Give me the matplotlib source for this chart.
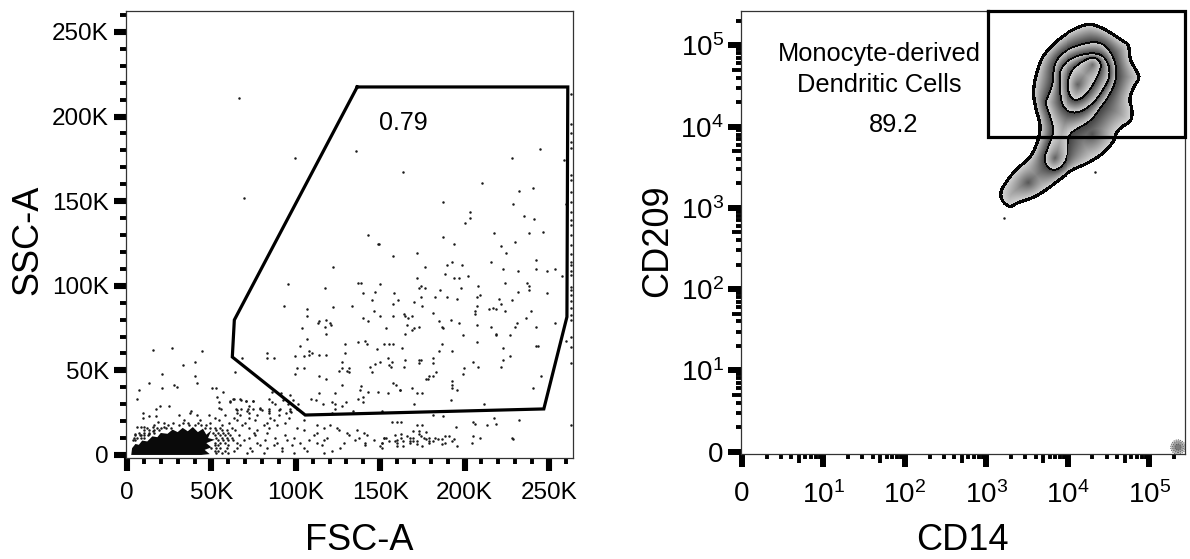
import numpy as np
import matplotlib
matplotlib.use("Agg")
import matplotlib.pyplot as plt
from matplotlib.path import Path

plt.rcParams['font.family'] = ['Liberation Sans', 'DejaVu Sans']
plt.rcParams['mathtext.default'] = 'regular'

# ---- left plot: FSC-A / SSC-A, values in thousands ----
gate_fsc = [136.4, 261.2, 260.7, 247.0, 105.6, 62.4, 63.6, 136.4]
gate_ssc = [217.5, 217.5, 81.6, 27.2, 23.6, 57.9, 79.8, 217.5]

# outline of the part of the population where the dots merge
core_fsc = [2.5, 3, 5, 7, 9, 12, 15, 18, 20, 24, 27, 30, 33, 36, 39, 42, 45, 47, 50, 48, 52, 47, 50, 46, 49, 44]
core_ssc = [0, 4, 6.5, 6, 8.5, 8, 11, 10.5, 13, 12.5, 15, 13.5, 16, 14, 16.5, 13.5, 15.5, 12, 14.5, 10, 9, 7, 4.5, 3, 0.5, 0]

# single events inside the gate and around it
events = [
    (66.2,210.8),(99.3,175.5),(69.1,151.7),(135.6,179.6),(163.7,167.2),(244.6,180.6),(228,175.5),(259.2,174.5),
    (210.4,160.9),(240.4,157.8),(232.1,155.8),(187.5,149.5),(229,148.5),(260.2,148.5),(203.1,143.4),(203.1,140.2),
    (200,137.1),(235.3,141.2),(241.4,139.3),(143,129.8),(149,124.7),(187.5,128.8),(217.7,131),(238.4,131),(246.7,132),
    (193.8,124.5),(172.1,119.2),(221.8,123.6),(230,125.7),(224.7,119.2),(242.5,115.3),(215.5,114.1),(192.8,114.1),
    (189.7,112.1),(198.7,112.1),(176.3,111.1),(222.8,110),(231.8,109),(242.5,110),(248.6,109),(253.7,110),(258,105.8),
    (188.7,107),(202.1,105.8),(172.1,104.8),(193.8,104.8),(197,104.8),(223.8,101.9),(237.2,101.9),(238.3,99.7),
    (238.3,97.5),(208.2,99.7),(174.1,99.7),(173.1,98.5),(176.3,98.5),(198,98.5),(185.5,97.5),(231.8,96.6),(248.6,95.6),
    (209.4,94.6),(207.2,93.4),(174.1,93.4),(182.4,93.4),(189.7,93.4),(195.8,92.4),(220.6,92.4),(227.9,91.4),(170,90.3),
    (221.8,89.3),(207.2,88.3),(175.1,88.3),(214.5,86.1),(216.7,87.1),(218.6,86.1),(223.8,85.1),(239.3,85.1),(206.2,85.1),
    (206.2,83.2),(181.4,84.1),(163.9,83.2),(164.9,82),(166.8,81),(169,82),(236.2,81),(191.8,80),(184.6,79),(197,77.9),
    (231,77.9),(253.7,77.9),(165.8,76.9),(207.2,76.9),(230,75.9),(242.5,75.9),(215.5,75.9),(186.5,75.9),(187.5,74.9),
    (173.1,75.9),(170,74.9),(169,73.9),(164.9,71.7),(198.9,70.8),(218.6,71.7),(218.6,70.8),(226.9,70.8),(260,67.6),
    (207.2,66.6),(186.5,65.6),(242.5,64.5),(243.5,64.5),(222.8,63.5),(162.7,63.5),(184.6,61.5),(192.8,61.5),(226.9,58.3),
    (181.4,57.4),(222.8,56.2),(164.9,56.2),(173.1,56.2),(174.1,56.2),(205.2,55.2),(173.1,54.2),(181.4,54.2),(163.9,52),
    (208.2,52),(221.8,52),(199.9,51.1),(183.4,48.9),(198.9,47.9),(179.2,46.9),(181.4,46.9),(245.4,46.9),(177.3,44.8),
    (178.3,44.8),(192.8,43.8),(192.8,41.6),(192.8,39.4),(169,39.4),(195.8,38.4),(240.3,39.4),(172.1,36.5),(175.1,36.5),
    (161.9,38.4),(191.8,32.3),(170,30.2),(211.3,30.2),
    (149.3,124.5),(157.5,117.4),(122.2,111.1),(136.6,101.9),(138.8,101.9),(150.2,100.9),(95.2,100.9),(117.1,98.7),
    (147.1,96.6),(139.8,95.6),(158.5,95.6),(144.9,91.4),(160.5,91.4),(157.5,89.3),(133.5,88.3),(93.2,88.3),(122.2,87.3),
    (106.6,86.1),(146.1,85.1),(106.6,82),(139.8,81),(142.9,79),(150.2,82),(157.5,82),(118.1,80),(113.9,79),(112.9,77.9),
    (120.1,77.9),(121,76.9),(117.1,75.9),(103.5,74.9),(153.2,74.9),(118.1,71.7),(106.6,68.6),(136.6,66.6),(140.8,67.6),
    (142,65.4),(152.2,65.4),(155.4,65.4),(157.5,65.4),(129.3,65.4),(102.5,64.5),(148.1,62.5),(107.6,61.3),(109.8,60.3),
    (107.6,59.3),(129.3,60.3),(113.9,59.3),(118.1,59.3),(82.8,60.3),(82.8,57.2),(86.9,57.2),(68.4,57.2),(99.3,58.2),
    (104.7,58.2),(154.4,57.2),(127.4,55.2),(157.3,55.2),(150.2,55.2),(147.1,54),(143.9,52),(155.4,53),(156.4,52),
    (100.5,51.1),(104.7,51.1),(127.4,51.1),(125.4,49.9),(131.5,51.1),(130.5,49.9),(131.5,48.9),(144.9,48.9),(64,48.9),
    (99.3,47.9),(113.9,46.7),(118.1,44.8),(157.5,42.6),(159.5,41.6),(127.4,41.6),(138.8,40.6),(137.8,38.4),(161.5,38.4),
    (142.9,37.5),(149,37.5),(154.4,36.5),(123.2,36.5),(113.9,36.5),(139.8,34.3),(136.6,33.3),(139.8,31.2),(108.8,33.3),
    (111.8,32.3),(121.2,31.2),(123.2,30.2),(115.9,30.2),(127.4,29.2),(129.5,31.2),(123.2,27),(133.7,26),(151.2,26),(121.2,25),
    (85.9,37.5),(91,36.5),(96.4,35.3),(83.9,33.3),(85.9,31.2),(87.9,30.2),(92.2,32.3),(98.3,32.3),(101.5,30.2),(95.4,30.2),
    (63.2,33.3),(61.1,31.2),(67.4,32.5),(70.3,32.1),(74.5,32.1),(72.5,29.2),(65.2,26.6),(65.4,25),(67.4,27),(71.5,27),
    (74.5,27),(78.8,27.6),(79.8,26.6),(83.9,27.4),(83.9,24.7),(90,26.6),(96.4,27),(97.4,25.6),(94.4,24.7),(72.5,24.7),
    (15.3,62.3),(26.7,63.3),(44.3,61.3),(33,53),(40.1,54.8),(20.6,47.9),(40.1,46.7),(13.3,42.6),(41.3,42.6),(27.7,41.6),
    (29.9,40.4),(20.6,39.4),(7,38.3),(6,33.1),(50.6,39.4),(52.8,39.4),(56.7,37.3),(53.5,34.1),(62.8,33.1),(60.9,32),
    (54.5,31.2),(67.2,33.1),(70.3,32.1),(74.5,32.1),(19.6,29),(24.7,29),(17.2,27),(9.2,24.9),(9.2,21.9),(13.3,22.9),
    (17.2,22.9),(31.1,23.9),(38.2,26),(37.2,24.9),(41.3,23.9),(34,20.7),(55.5,27),(54.5,28),(18.2,19.7),(6,16.6),(8,16.6),
    (10.1,16.6),(15.3,16.6),(5,12.4),(8,11.5),(10.1,10.3),(13.3,12.4),(15.5,14.4),(21.8,16.4),
    (157.3,19.5),(159.7,19.5),(162.6,19.5),(172.1,17.5),(175.1,17.5),(194.8,16.5),(205.2,19.5),(206.2,18.5),(217.7,21.7),
    (218.7,18.5),(213.5,17.5),(232.1,20.7),(169.7,14.4),(172.9,14.4),(177,13.4),(162.6,12.4),(172.9,12.4),(174.1,11.2),
    (162.6,10.2),(165.8,11.2),(152.4,10.2),(153.4,10.2),(167.8,10.2),(169.7,10.2),(176,10.2),(179.2,10.2),(182.4,10.2),
    (188.4,11.2),(190.6,11.2),(205.2,11.2),(209.1,10.2),(227.9,10.2),(228.9,9.3),(155.5,8.3),(158.7,8.3),(159.9,7.3),
    (163.8,8.3),(167.8,8.3),(169.7,8.3),(171.7,8.3),(177,9.3),(179.2,8.3),(181.6,8.3),(184.3,9.3),(186.5,9.3),(193.8,9.3),
    (192.6,8.1),(188.7,7.3),(179.2,7.3),(204.3,7.3),(151,7.3),(150,5.3),(159.9,5.3),(163.8,5.3),(171.7,6.3),(175,5.1),
    (186.5,6.3),(195.8,5.1),(167.8,7.3),(181.2,23.6),(187.5,23),
]

# events in the busy part below the gate, read row by row: ssc -> list of fsc
event_rows = {
    27.4: [64.8, 79, 90.8, 100.7],
    25.8: [71.1, 83.9, 96.4],
    23.5: [48.4, 58.3, 67.2, 77, 89.9],
    21.9: [52.4, 63.2, 72.1, 84.9, 95.8],
    20.4: [43.5, 54.3, 65.2, 76, 86.9, 104.7],
    19.0: [22, 27, 33, 36, 42, 49.4, 60.3, 70.1, 83, 93.8],
    17.7: [16, 24, 31, 37, 40, 44, 47, 56.3, 68.2, 81, 88.9, 112.5, 120.4],
    16.0: [12, 18, 20, 23, 26, 46.5, 49, 52, 55, 62.2, 72.1, 83.9, 100.7, 116.5, 124.4],
    14.6: [10, 13, 16, 19, 53, 56, 59, 64.2, 77, 104.7, 125.4, 136.2],
    13.1: [7, 10, 13, 16, 51, 54, 57, 60, 75.1, 83, 112.5, 130.3, 140.2],
    11.7: [5, 7.5, 10, 12.5, 52, 55, 58, 61, 66.2, 76, 93.8, 110.6, 131.3, 142.1, 158.9],
    10.1: [4, 6, 8, 53, 56, 59, 62, 72.1, 87.9, 98.7, 118.5, 137.2, 152],
    8.7: [3.5, 5, 54, 57, 60, 63, 69.1, 82, 94.8, 107.6, 116.5, 135.2, 146.1, 159.9],
    7.1: [52, 55, 58, 65.2, 77, 88.9, 102.7, 112.5, 128.3, 141.2, 151],
    5.6: [52, 54, 60, 67.2, 79, 86.9, 97.8, 115.5, 141.2],
    4.2: [50, 53, 55, 59, 65, 73.1, 83, 91.8, 104.7, 126.4, 151],
    2.6: [52, 54, 58, 63.2, 74.1, 91.8, 106.6, 121.4],
    1.0: [53, 56, 60, 71.1, 81, 98.7, 116.5],
}

# off-scale events piled up on the right edge of the plot
edge_fsc = 263.0
edge_ssc = [213.3, 195.6, 190.1, 185.2, 181.2, 165.4, 162.5, 155.6, 149.7, 143.8, 138.9, 135.9, 130,
            124.1, 118.8, 114.3, 112.3, 109, 106.4, 99.5, 97.5, 94.6, 90.7, 86.7, 82.8, 79.8, 70, 64.1, 54.2, 17.7]

scatter_ticks = [0, 50, 100, 150, 200, 250]
scatter_labels = ['0', '50K', '100K', '150K', '200K', '250K']
scatter_minor = [10, 20, 30, 40, 60, 70, 80, 90, 110, 120, 130, 140, 160, 170, 180, 190, 210, 220, 230, 240, 260]

# ---- right plot: CD14 / CD209 contours, values in decades of the display scale ----
c1_x = [4.25,4.39,4.536,4.68,4.76,4.77,4.84,4.896,4.82,4.76,4.80,4.79,4.68,4.60,4.58,4.43,4.23,4.065,3.90,3.74,3.575,3.37,3.29,3.186,3.166,3.29,3.41,3.554,3.636,3.656,3.656,3.595,3.567,3.636,3.70,3.86,4.025]
c1_y = [5.265,5.23,5.15,5.05,5.006,4.82,4.70,4.596,4.49,4.33,4.206,4.06,4.00,3.92,3.815,3.65,3.53,3.467,3.344,3.22,3.118,3.056,2.995,3.077,3.20,3.385,3.508,3.63,3.836,3.94,4.04,4.246,4.452,4.74,4.88,5.05,5.17]
c2_x = [4.39,4.536,4.605,4.60,4.515,4.41,4.29,4.106,4.025,4.00,3.99,3.88,3.76,3.70,3.76,3.83,3.78,3.72,3.746,3.82,3.82,3.92,4.147]
c2_y = [5.05,4.924,4.74,4.555,4.37,4.226,4.06,3.96,3.898,3.754,3.59,3.458,3.467,3.59,3.754,3.94,4.123,4.288,4.35,4.534,4.74,4.904,5.006]
c3_x = [4.43,4.515,4.524,4.43,4.33,4.147,3.984,3.914,3.90,3.894,4.045,4.27]
c3_y = [4.883,4.76,4.596,4.43,4.288,4.156,4.185,4.288,4.49,4.70,4.84,4.904]
c4_x = [4.33,4.425,4.39,4.27,4.168,4.065,4.00,4.025,4.106,4.23]
c4_y = [4.854,4.78,4.636,4.43,4.33,4.32,4.452,4.636,4.74,4.82]

# density peaks inside each band
peak1_x, peak1_y = [3.513, 4.31], [3.303, 3.90]
peak2_x, peak2_y = [3.84], [3.61]
peak4_x, peak4_y = [4.127, 4.31], [4.514, 4.76]

outlier_x = [4.33, 3.21]
outlier_y = [3.44, 2.875]
corner_x, corner_y = 5.35, 0.055

cd_gate_left = 3.02
cd_gate_bottom = 3.87

decade_ticks = [0, 1, 2, 3, 4, 5]
decade_labels = ['0', '$10^{1}$', '$10^{2}$', '$10^{3}$', '$10^{4}$', '$10^{5}$']
decade_steps = [2, 3, 4, 5, 6, 7, 8, 9]

W, H = 1190, 559
fig = plt.figure(figsize=(W / 100, H / 100), dpi=100)


def place(l, t, r, b):
    return fig.add_axes([l / W, 1 - b / H, (r - l) / W, (b - t) / H])


ax1 = place(125.5, 11, 572.5, 458)
ax2 = place(741, 10.5, 1184.5, 454)

for ax in (ax1, ax2):
    for s in ax.spines.values():
        s.set_linewidth(0.9)
        s.set_color('#333333')

# left plot
ax1.set_xlim(-0.9, 264.0)
ax1.set_ylim(-1.8, 262.4)
ax1.fill(core_fsc, core_ssc, color='#0a0a0a', lw=0)
ev_x = [e[0] for e in events]
ev_y = [e[1] for e in events]
for ssc, row in event_rows.items():
    ev_x += row
    ev_y += [ssc] * len(row)
ev_x += [edge_fsc] * len(edge_ssc)
ev_y += edge_ssc
ax1.scatter(ev_x, ev_y, s=3.2, color='#1a1a1a', lw=0, zorder=2)
ax1.plot(gate_fsc, gate_ssc, color='black', lw=2.3, zorder=3, solid_joinstyle='miter')
ax1.text(164, 196, '0.79', fontsize=18, ha='center', va='center')

ax1.set_xticks(scatter_ticks)
ax1.set_xticklabels(scatter_labels)
ax1.set_yticks(scatter_ticks)
ax1.set_yticklabels(scatter_labels)
ax1.set_xticks(scatter_minor, minor=True)
ax1.set_yticks(scatter_minor, minor=True)
ax1.tick_params(which='major', length=9, width=4.4, labelsize=17.5)
ax1.tick_params(axis='x', which='major', pad=8)
ax1.tick_params(axis='y', which='major', pad=3)
ax1.tick_params(which='minor', length=4, width=2.8)


# right plot: shaded contours worked out on a grid of about one cell per pixel
def smooth(xs, ys, rounds=2):
    pts = np.column_stack([xs, ys])
    for _ in range(rounds):
        nxt = np.roll(pts, -1, axis=0)
        pts = np.column_stack([0.75 * pts + 0.25 * nxt, 0.25 * pts + 0.75 * nxt]).reshape(-1, 2)
    return pts


def dense(pts, step=0.006):
    closed = np.vstack([pts, pts[:1]])
    seg = np.hypot(*np.diff(closed, axis=0).T)
    dist = np.concatenate([[0], np.cumsum(seg)])
    at = np.arange(0, dist[-1], step)
    return np.column_stack([np.interp(at, dist, closed[:, 0]), np.interp(at, dist, closed[:, 1])])


def nearest(grid, pts):
    out = np.empty(len(grid))
    for i in range(0, len(grid), 4000):
        part = grid[i:i + 4000]
        out[i:i + 4000] = np.sqrt(((part[:, None, :] - pts[None, :, :]) ** 2).sum(axis=2)).min(axis=1)
    return out


x_edges = np.arange(2.95, 5.05, 1 / 81.5)
y_edges = np.arange(2.85, 5.40, 1 / 81.2)
gx, gy = np.meshgrid(x_edges, y_edges)
grid = np.column_stack([gx.ravel(), gy.ravel()])

polys = [smooth(c1_x, c1_y), smooth(c2_x, c2_y), smooth(c3_x, c3_y), smooth(c4_x, c4_y)]
lines = [dense(p) for p in polys]
peaks = [np.column_stack([peak1_x, peak1_y]), np.column_stack([peak2_x, peak2_y]), None, np.column_stack([peak4_x, peak4_y])]

inside = np.array([Path(p).contains_points(grid) for p in polys])
level = inside.sum(axis=0)
dist = np.array([nearest(grid, ln) for ln in lines])

gray = np.ones(len(grid))
for k in range(4):
    band = level == k + 1
    d_out = dist[k][band]
    inner = []
    if k < 3:
        inner.append(dist[k + 1][band])
    if peaks[k] is not None:
        # the peaks never get quite as dark as the next contour
        inner.append(nearest(grid[band], peaks[k]) + 0.04)
    d_in = np.min(inner, axis=0)
    t = d_out / (d_out + d_in + 1e-6)
    gray[band] = 0.86 - 0.62 * t

alpha = (level > 0).astype(float)
# black contour lines
for k in range(4):
    width = 1.7 if k == 0 else 1.0
    on_line = dist[k] < width / 81.5
    gray[on_line] = 0.02
    alpha[on_line] = 1.0

rgba = np.zeros((gx.shape[0], gx.shape[1], 4))
rgba[..., 0] = rgba[..., 1] = rgba[..., 2] = gray.reshape(gx.shape)
rgba[..., 3] = alpha.reshape(gx.shape)
ax2.imshow(rgba, origin='lower', interpolation='nearest', aspect='auto', zorder=1,
           extent=[x_edges[0], x_edges[-1], y_edges[0], y_edges[-1]])

ax2.set_xlim(-0.012, 5.43)
ax2.set_ylim(-0.03, 5.43)
ax2.scatter(outlier_x, outlier_y, s=3.2, color='#1a1a1a', lw=0, zorder=2)

# pile of off-scale events in the corner
for size, shade in zip([110, 60, 20], ['#c4c4c4', '#a0a0a0', '#7a7a7a']):
    ax2.scatter([corner_x], [corner_y], s=size, facecolor=shade, edgecolor='#444444',
                linewidth=0.6, linestyle=':', zorder=2)

ax2.plot([cd_gate_left, cd_gate_left, 5.43, 5.43, cd_gate_left], [5.43, cd_gate_bottom, cd_gate_bottom, 5.43, 5.43],
         color='black', lw=2.3, zorder=3, clip_on=False, solid_joinstyle='miter')
ax2.text(1.68, 4.895, 'Monocyte-derived', fontsize=18.3, ha='center', va='center')
ax2.text(1.68, 4.51, 'Dendritic Cells', fontsize=18.3, ha='center', va='center')
ax2.text(1.865, 4.02, '89.2', fontsize=18.3, ha='center', va='center')

minor_pos = [d + np.log10(s) for d in decade_ticks for s in decade_steps if d + np.log10(s) < 5.43]
medium_pos = [d + np.log10(5) for d in decade_ticks]
ax2.set_xticks(decade_ticks)
ax2.set_xticklabels(decade_labels)
ax2.set_yticks(decade_ticks)
ax2.set_yticklabels(decade_labels)
ax2.set_xticks(minor_pos, minor=True)
ax2.set_yticks(minor_pos, minor=True)
ax2.tick_params(which='major', length=9.4, width=4.3, labelsize=20)
ax2.tick_params(axis='x', which='major', pad=10)
ax2.tick_params(axis='y', which='major', pad=3)
ax2.tick_params(which='minor', length=3.6, width=2.8)

# the tick at 5 in each decade is longer
for axis in (ax2.xaxis, ax2.yaxis):
    for pos, tick in zip(minor_pos, axis.get_minor_ticks()):
        if any(abs(pos - m) < 1e-6 for m in medium_pos):
            tick.tick1line.set_markersize(6.5)

# axis names
fig.text(359 / W, 1 - 540 / H, 'FSC-A', fontsize=26, ha='center', va='center')
fig.text(28 / W, 1 - 240 / H, 'SSC-A', fontsize=26, ha='center', va='center', rotation=90)
fig.text(962 / W, 1 - 540 / H, 'CD14', fontsize=26, ha='center', va='center')
fig.text(658 / W, 1 - 241 / H, 'CD209', fontsize=26, ha='center', va='center', rotation=90)

fig.savefig('out.png', dpi=100)
